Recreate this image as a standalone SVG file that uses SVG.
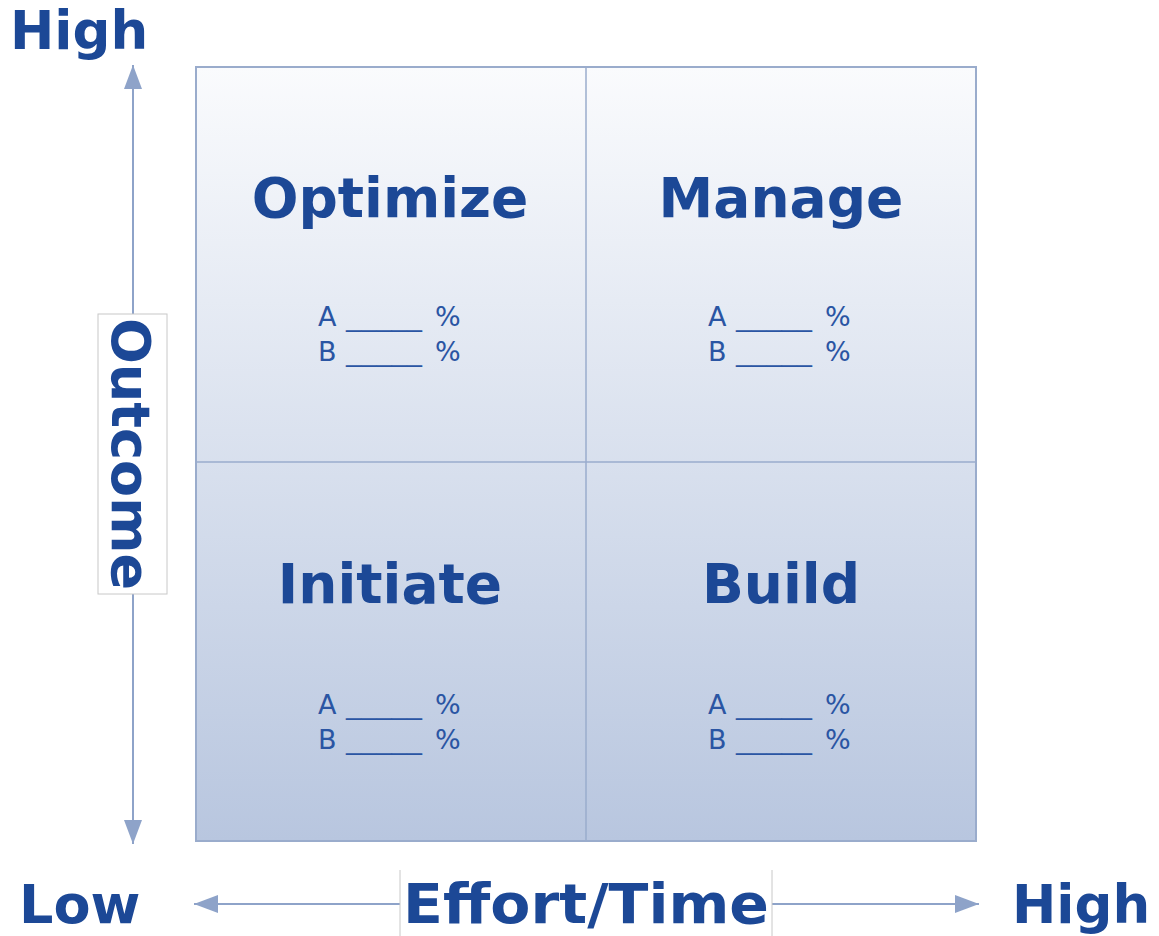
<svg xmlns="http://www.w3.org/2000/svg" width="1159" height="936" viewBox="0 0 1159 936">
<defs>
<linearGradient id="g" x1="0" y1="0" x2="0" y2="1">
<stop offset="0" stop-color="#fafbfd"/>
<stop offset="1" stop-color="#b8c6df"/>
</linearGradient>
<marker id="ah" viewBox="0 0 24 18" refX="24" refY="9" markerWidth="24" markerHeight="18" markerUnits="userSpaceOnUse" orient="auto">
<path d="M0,0 L24,9 L0,18 Z" fill="#8ea3c9"/>
</marker>
<style>
.big{font-family:"DejaVu Sans",Verdana,sans-serif;font-weight:bold;fill:#1c4896;}
.q{font-family:"DejaVu Sans",Verdana,sans-serif;font-size:27px;fill:#2a55a3;}
.ax{stroke:#8ea3c9;stroke-width:2;fill:none;}
.grid{stroke:#9aaccc;stroke-width:1.5;fill:none;}
</style>
</defs>
<rect width="1159" height="936" fill="#ffffff"/>
<g id="matrix">
<rect x="196" y="67" width="780" height="774" fill="url(#g)" stroke="#9aaccc" stroke-width="2"/>
<line class="grid" x1="586" y1="67" x2="586" y2="841"/>
<line class="grid" x1="196" y1="462" x2="976" y2="462"/>
</g>
<g id="connectors">
<line class="ax" x1="133" y1="460" x2="133" y2="65" marker-end="url(#ah)"/>
<line class="ax" x1="133" y1="460" x2="133" y2="844" marker-end="url(#ah)"/>
<line class="ax" x1="400" y1="904" x2="194" y2="904" marker-end="url(#ah)"/>
<line class="ax" x1="772" y1="904" x2="979" y2="904" marker-end="url(#ah)"/>
</g>
<g id="optimize">
<text class="big" x="390" y="217" font-size="55" text-anchor="middle">Optimize</text>
<text class="q" y="326"><tspan x="318">A</tspan><tspan x="346" textLength="76" lengthAdjust="spacingAndGlyphs">_____</tspan><tspan x="435">%</tspan></text>
<text class="q" y="361"><tspan x="318">B</tspan><tspan x="346" textLength="76" lengthAdjust="spacingAndGlyphs">_____</tspan><tspan x="435">%</tspan></text>
</g>
<g id="manage">
<text class="big" x="781" y="217" font-size="55" text-anchor="middle">Manage</text>
<text class="q" y="326"><tspan x="708">A</tspan><tspan x="736" textLength="76" lengthAdjust="spacingAndGlyphs">_____</tspan><tspan x="825">%</tspan></text>
<text class="q" y="361"><tspan x="708">B</tspan><tspan x="736" textLength="76" lengthAdjust="spacingAndGlyphs">_____</tspan><tspan x="825">%</tspan></text>
</g>
<g id="initiate">
<text class="big" x="390" y="603" font-size="55" text-anchor="middle">Initiate</text>
<text class="q" y="714"><tspan x="318">A</tspan><tspan x="346" textLength="76" lengthAdjust="spacingAndGlyphs">_____</tspan><tspan x="435">%</tspan></text>
<text class="q" y="749"><tspan x="318">B</tspan><tspan x="346" textLength="76" lengthAdjust="spacingAndGlyphs">_____</tspan><tspan x="435">%</tspan></text>
</g>
<g id="build">
<text class="big" x="781" y="603" font-size="55" text-anchor="middle">Build</text>
<text class="q" y="714"><tspan x="708">A</tspan><tspan x="736" textLength="76" lengthAdjust="spacingAndGlyphs">_____</tspan><tspan x="825">%</tspan></text>
<text class="q" y="749"><tspan x="708">B</tspan><tspan x="736" textLength="76" lengthAdjust="spacingAndGlyphs">_____</tspan><tspan x="825">%</tspan></text>
</g>
<g id="high-top">
<text class="big" x="10" y="49" font-size="53">High</text>
</g>
<g id="outcome">
<rect x="98" y="314" width="69" height="280" fill="#ffffff" stroke="#c8c8c8" stroke-width="1"/>
<text class="big" font-size="54" text-anchor="middle" transform="translate(112,454) rotate(90)">Outcome</text>
</g>
<g id="low">
<text class="big" x="19" y="923" font-size="54">Low</text>
</g>
<g id="effort">
<rect x="400" y="870" width="372" height="70" fill="#ffffff"/>
<line x1="400" y1="870" x2="400" y2="936" stroke="#c8c8c8" stroke-width="1"/>
<line x1="772" y1="870" x2="772" y2="936" stroke="#c8c8c8" stroke-width="1"/>
<text class="big" x="586" y="923" font-size="55" text-anchor="middle" textLength="366" lengthAdjust="spacingAndGlyphs">Effort/Time</text>
</g>
<g id="high-right">
<text class="big" x="1012" y="923" font-size="53">High</text>
</g>
</svg>
